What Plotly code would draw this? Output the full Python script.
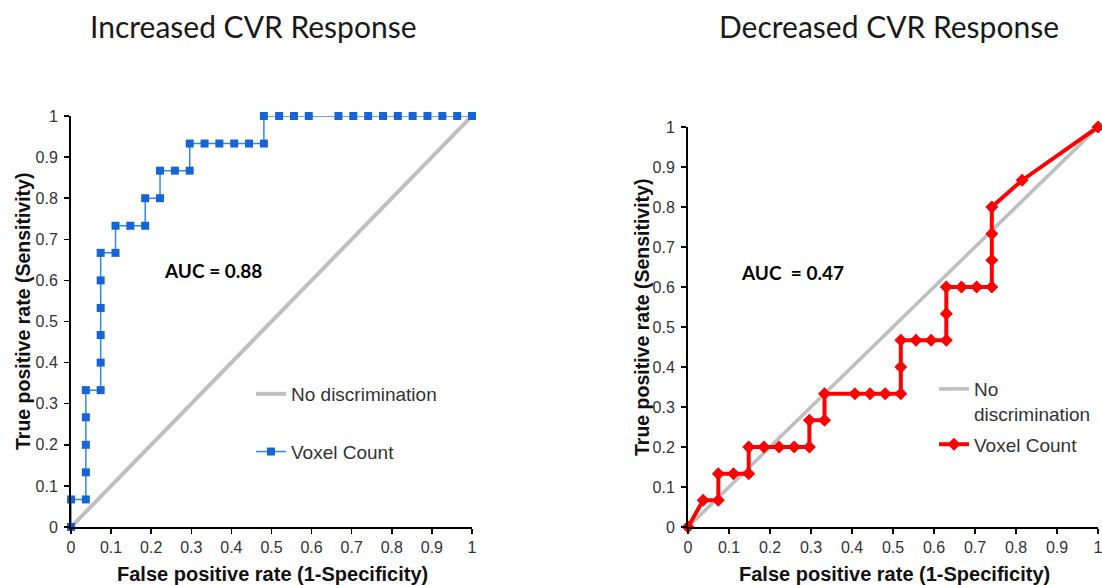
import plotly.graph_objects as go

# ---- data ----
diag = [0, 1]

inc_fpr = [0, 0, 0.037, 0.037, 0.037, 0.037, 0.037, 0.074, 0.074, 0.074, 0.074, 0.074, 0.074,
           0.111, 0.111, 0.148, 0.185, 0.185, 0.222, 0.222, 0.259, 0.296, 0.296, 0.333, 0.370,
           0.407, 0.444, 0.481, 0.481, 0.519, 0.556, 0.593, 0.667, 0.704, 0.741, 0.778, 0.815,
           0.852, 0.889, 0.926, 0.963, 1.0]
inc_tpr = [0, 0.067, 0.067, 0.133, 0.2, 0.267, 0.333, 0.333, 0.4, 0.467, 0.533, 0.6, 0.667,
           0.667, 0.733, 0.733, 0.733, 0.8, 0.8, 0.867, 0.867, 0.867, 0.933, 0.933, 0.933,
           0.933, 0.933, 0.933, 1, 1, 1, 1, 1, 1, 1, 1, 1, 1, 1, 1, 1, 1]

dec_fpr = [0, 0.037, 0.074, 0.074, 0.111, 0.148, 0.148, 0.185, 0.222, 0.259, 0.296, 0.296,
           0.333, 0.333, 0.407, 0.444, 0.481, 0.519, 0.519, 0.519, 0.556, 0.593, 0.630, 0.630,
           0.630, 0.667, 0.704, 0.741, 0.741, 0.741, 0.741, 0.815, 1.0]
dec_tpr = [0, 0.067, 0.067, 0.133, 0.133, 0.133, 0.2, 0.2, 0.2, 0.2, 0.2, 0.267,
           0.267, 0.333, 0.333, 0.333, 0.333, 0.333, 0.4, 0.467, 0.467, 0.467, 0.467, 0.533,
           0.6, 0.6, 0.6, 0.6, 0.667, 0.733, 0.8, 0.867, 1.0]

tick_vals = [0, 0.1, 0.2, 0.3, 0.4, 0.5, 0.6, 0.7, 0.8, 0.9, 1]
tick_text = ["0", "0.1", "0.2", "0.3", "0.4", "0.5", "0.6", "0.7", "0.8", "0.9", "1"]

titles = ["Increased CVR Response", "Decreased CVR Response"]
auc_texts = ["AUC = 0.88", "AUC  = 0.47"]
x_title = "False positive rate (1-Specificity)"
y_title = "True positive rate (Sensitivity)"

W, H = 1102, 585
GRAY = "#bfbfbf"
BLUE = "#1565d8"
RED = "#ff0000"
SANS = "Liberation Sans, Arial"

fig = go.Figure()

# left panel
fig.add_trace(go.Scatter(x=diag, y=diag, mode="lines", name="No discrimination",
                         line=dict(color=GRAY, width=4), legendgroup="a1",
                         xaxis="x", yaxis="y", legend="legend", cliponaxis=False))
fig.add_trace(go.Scatter(x=inc_fpr, y=inc_tpr, mode="lines+markers", name="Voxel Count",
                         line=dict(color="#2f8ae6", width=1.5),
                         marker=dict(symbol="square", size=8, color=BLUE),
                         legendgroup="a2", xaxis="x", yaxis="y", legend="legend",
                         cliponaxis=False))
# right panel
fig.add_trace(go.Scatter(x=diag, y=diag, mode="lines", name="No<br>discrimination",
                         line=dict(color=GRAY, width=3.5), legendgroup="b1",
                         xaxis="x2", yaxis="y2", legend="legend2", cliponaxis=False))
fig.add_trace(go.Scatter(x=dec_fpr, y=dec_tpr, mode="lines+markers", name="Voxel Count",
                         line=dict(color=RED, width=4),
                         marker=dict(symbol="diamond", size=10, color=RED),
                         legendgroup="b2", xaxis="x2", yaxis="y2", legend="legend2",
                         cliponaxis=False))

def px_x(p):
    return p / W

def px_y(p):
    return 1 - p / H

axis_common = dict(range=[0, 1], showgrid=False, zeroline=False, showline=True,
                   linecolor="#000000", linewidth=2, ticks="outside", ticklen=5,
                   tickwidth=1.5, tickcolor="#000000", tickvals=tick_vals, ticktext=tick_text,
                   tickfont=dict(family=SANS, size=16, color="#333333"),
                   ticklabeloverflow="allow",
                   fixedrange=True, automargin=False)

fig.update_layout(
    width=W, height=H,
    margin=dict(l=0, r=0, t=0, b=0, autoexpand=False),
    paper_bgcolor="white", plot_bgcolor="white",
    xaxis=dict(domain=[px_x(71), px_x(472)], anchor="y", **axis_common),
    yaxis=dict(domain=[px_y(527), px_y(116)], anchor="x", ticklabelstandoff=3, **axis_common),
    xaxis2=dict(domain=[px_x(688), px_x(1098)], anchor="y2", **axis_common),
    yaxis2=dict(domain=[px_y(527), px_y(127)], anchor="x2", ticklabelstandoff=3, **axis_common),
    legend=dict(x=px_x(251), y=px_y(375), xanchor="left", yanchor="top",
                font=dict(family=SANS, size=19, color="#333333"),
                tracegroupgap=30, bgcolor="rgba(0,0,0,0)"),
    legend2=dict(x=px_x(934), y=px_y(370), xanchor="left", yanchor="top",
                 font=dict(family=SANS, size=19, color="#333333"),
                 tracegroupgap=3, valign="top", bgcolor="rgba(0,0,0,0)"),
    showlegend=True,
)

annotations = []
# titles
for cx, t in zip([253, 889], titles):
    annotations.append(dict(text=t, x=px_x(cx), y=px_y(26), xref="paper", yref="paper",
                            showarrow=False, xanchor="center", yanchor="middle",
                            font=dict(family="Lato", size=30, color="#1a1a1a")))
# AUC labels (data coords)
annotations.append(dict(text="<b>" + auc_texts[0] + "</b>", x=0.354, y=0.625, xref="x", yref="y",
                        showarrow=False, font=dict(family="Lato", size=19, color="#000000")))
annotations.append(dict(text="<b>" + auc_texts[1] + "</b>", x=0.254, y=0.637, xref="x2", yref="y2",
                        showarrow=False, font=dict(family="Lato", size=19, color="#000000")))
# axis titles
for cx in [272, 894]:
    annotations.append(dict(text="<b>" + x_title + "</b>", x=px_x(cx), y=px_y(574),
                            xref="paper", yref="paper", showarrow=False,
                            xanchor="center", yanchor="middle",
                            font=dict(family=SANS, size=20, color="#111111")))
for cx, cy in [(23, 312), (642, 318)]:
    annotations.append(dict(text="<b>" + y_title + "</b>", x=px_x(cx), y=px_y(cy),
                            xref="paper", yref="paper", showarrow=False, textangle=-90,
                            xanchor="center", yanchor="middle",
                            font=dict(family=SANS, size=19.5, color="#111111")))
fig.update_layout(annotations=annotations)

# remove the default 8px page margin so the figure fills the window exactly
fig.write_html("out.html",
               config={"displayModeBar": False, "staticPlot": True},
               post_script="document.body.style.margin='0';document.body.style.overflow='hidden';")
